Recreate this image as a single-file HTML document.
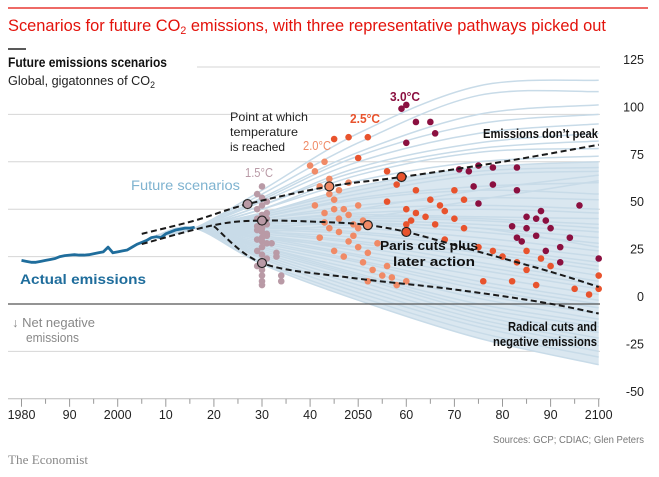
<!DOCTYPE html>
<html><head><meta charset="utf-8">
<style>
html,body{margin:0;padding:0;background:#fff;}
body{width:659px;height:477px;overflow:hidden;position:relative;font-family:"Liberation Sans",sans-serif;}
svg{position:absolute;left:0;top:0;}
text{font-family:"Liberation Sans",sans-serif;}
</style></head>
<body>
<svg id="chart" width="659" height="477"></svg>
<script>
// ---- data ----
const xTickYears=[1980,1990,2000,2010,2020,2030,2040,2050,2060,2070,2080,2090,2100];
const xTickLabels=["1980","90","2000","10","20","30","40","2050","60","70","80","90","2100"];
const yTicks=[125,100,75,50,25,0,-25,-50];
const actualYears=[1980,1981,1982,1983,1984,1985,1986,1987,1988,1989,1990,1991,1992,1993,1994,1995,1996,1997,1998,1999,2000,2001,2002,2003,2004,2005,2006,2007,2008,2009,2010,2011,2012,2013,2014,2015,2016];
const actualValues=[23,22.5,22,22,22.5,23,23.5,24,25,25.5,25.8,26,25.8,25.8,26,26.5,27,27.5,30,27,27.5,28,28.5,30,31.5,32.5,33.5,35,35.5,35,37,38,39,39.5,40,40,40.5];
const scenYears=[2016,2030,2050,2075,2100];
const scen2030=[60,58,56,55,54,52,52,50,50,48,48,47,46,46,45,45,44,44,43,43,42,42,41,40,40,39,38,38,37,36,36,35,34,33,32,31,30,30,29,28,27,26,25,24,22,21,40,42,38,35];
const scen2050=[90,85,80,78,75,72,70,68,65,62,60,58,56,55,52,50,48,47,46,45,44,43,42,40,38,37,35,33,32,30,28,26,25,23,22,20,18,16,15,14,12,10,8,6,4,2,45,50,42,30];
const scen2075=[115,110,100,95,90,85,82,80,75,72,70,68,62,60,56,52,50,46,45,44,42,40,38,35,32,30,27,25,22,20,18,15,12,10,8,5,3,0,-2,-4,-6,-8,-10,-12,-15,-18,55,60,40,28];
const scen2100=[118,112,105,100,95,90,86,82,78,75,72,70,64,58,55,50,48,45,42,40,38,35,32,28,25,22,18,15,12,10,8,5,2,0,-2,-5,-8,-10,-12,-15,-18,-20,-22,-25,-28,-32,65,68,30,20];
const peakYears=[2005,2016,2027,2044,2059,2080,2100];
const peakValues=[37,44,52.7,62,67,75,84];
const parisYears=[2005,2020,2030,2045,2052,2060,2073,2090,2100];
const parisValues=[31.6,41.6,44,43,41.6,38,29,17,9];
const radicalYears=[2020,2030,2048,2069,2088,2100];
const radicalValues=[41,21.6,14,8,1,-5];
const markYears=[2027,2030,2030,2044,2052,2059,2060];
const markValues=[52.7,44,21.6,62,41.6,67,38];
const markGroup=["c15","c15","c15","c20","c20","c25","c25"];
const d15Years=[2030,2029,2030,2031,2030,2029,2031,2030,2029,2030,2031,2030,2029,2030,2031,2030,2029,2030,2031,2030,2029,2030,2031,2030,2029,2030,2030,2030,2030,2031,2029,2031,2033,2034,2034,2033,2032];
const d15Values=[62,58,56,54,52,50,48,47,45,43,42,40,39,38,37,35,34,33,32,30,28,26,24,22,20,18,15,12,10,45,41,36,25,15,12,27,32];
const d20Years=[2040,2041,2043,2042,2044,2045,2041,2043,2046,2047,2048,2044,2046,2049,2042,2048,2050,2045,2047,2051,2053,2055,2052,2057,2060,2049,2051,2046,2044,2050,2052,2054,2056,2058,2048,2043,2045,2050];
const d20Values=[73,70,75,62,58,55,52,48,45,50,47,40,38,36,35,33,30,28,25,22,18,15,12,14,12,42,44,60,66,52,27,32,20,10,64,43,50,40];
const d25Years=[2045,2048,2052,2050,2056,2058,2062,2065,2067,2060,2062,2064,2068,2070,2072,2066,2060,2075,2078,2080,2083,2085,2088,2090,2076,2082,2087,2095,2100,2100,2098,2070,2072,2056,2061,2068,2085];
const d25Values=[87,88,88,77,70,63,60,55,52,50,48,46,49,45,40,42,42,30,28,25,22,18,24,20,12,12,10,8,8,15,5,60,55,54,44,34,28];
const d30Years=[2059,2060,2062,2065,2066,2060,2071,2073,2075,2078,2083,2074,2078,2083,2075,2085,2087,2089,2085,2082,2090,2083,2087,2084,2094,2089,2092,2092,2100,2088,2096];
const d30Values=[103,105,96,96,90,85,71,70,73,72,72,62,63,60,53,46,45,44,40,41,40,35,36,33,35,28,30,22,24,49,52];
const groupColors={c15:"#b99aa6",c20:"#f08a66",c25:"#e8532d",c30:"#8b1040"};
// ---- scales ----
const X=y=>21.5+(y-1980)*4.81;
const Y=v=>304-v*1.896;
const NS="http://www.w3.org/2000/svg";
const svg=document.getElementById('chart');
function mk(tag,attrs,parent){const e=document.createElementNS(NS,tag);for(const k in attrs)e.setAttribute(k,attrs[k]);(parent||svg).appendChild(e);return e;}
function txt(s,x,y,fs,fill,extra){const e=mk('text',Object.assign({x:x,y:y,'font-size':fs,fill:fill},extra||{}));e.textContent=s;return e;}
function smoothPts(pts,first){
  let d=(first?'M':'L')+pts[0][0]+','+pts[0][1];
  for(let i=0;i<pts.length-1;i++){
    const p0=pts[Math.max(0,i-1)],p1=pts[i],p2=pts[i+1],p3=pts[Math.min(pts.length-1,i+2)];
    const c1x=p1[0]+(p2[0]-p0[0])/6,c1y=p1[1]+(p2[1]-p0[1])/6;
    const c2x=p2[0]-(p3[0]-p1[0])/6,c2y=p2[1]-(p3[1]-p1[1])/6;
    d+=' C'+c1x+','+c1y+' '+c2x+','+c2y+' '+p2[0]+','+p2[1];
  }
  return d;
}
const smooth=pts=>smoothPts(pts,true);
function scenPts(i){
  const vals=[40,scen2030[i],scen2050[i],scen2075[i],scen2100[i]];
  return [[X(2008),Y(36)]].concat(scenYears.map((yr,j)=>[X(yr),Y(vals[j])]));
}
// header
let e;
e=mk('line',{x1:8,y1:8,x2:648,y2:8,stroke:'#e3120b','stroke-width':1.2});


e=txt('',8,31,17,'#e3120b',{textLength:598,lengthAdjust:'spacingAndGlyphs'});
e.innerHTML='Scenarios for future CO<tspan font-size="11" dy="3">2</tspan><tspan dy="-3"> emissions, with three representative pathways picked out</tspan>';


e=mk('line',{x1:8,y1:49,x2:26,y2:49,stroke:'#222','stroke-width':1.5});


e=txt('Future emissions scenarios',8,67,13.5,'#111',{'font-weight':'bold',textLength:159,lengthAdjust:'spacingAndGlyphs'});


e=txt('',8,85,13,'#222',{textLength:147,lengthAdjust:'spacingAndGlyphs'});
e.innerHTML='Global, gigatonnes of CO<tspan font-size="9" dy="3">2</tspan>';


// gridlines
yTicks.forEach(v=>{
  const y=Y(v);
  let x1=8;
  if(v===125)x1=197;
  if(v===-50)return;
  const g=mk('line',{x1:x1,y1:y,x2:600,y2:y,stroke:'#d6d6d6','stroke-width':1});
  
  
});
// scenarios envelope fill
{
  const top=scenPts(9), bot=scenPts(45).slice().reverse();
  const d=smooth(top)+' '+smoothPts(bot,false)+' Z';
  e=mk('path',{d:d,fill:'#dae7f0',stroke:'none'});
  
  
}
const scenG=mk('g',{});


for(let i=0;i<scen2030.length;i++){
  const p=mk('path',{d:smooth(scenPts(i)),fill:'none',stroke:'#c8dbe8','stroke-width':1.5},scenG);
  
  
}
e=mk('line',{x1:8,y1:Y(0),x2:600,y2:Y(0),stroke:'#555','stroke-width':1.3});


// dots
function dots(years,vals,color,name){
  const g=mk('g',{});
  
  
  years.forEach((yr,i)=>{
    const c=mk('circle',{cx:X(yr),cy:Y(vals[i]),r:3.3,fill:color},g);
    
    
  });
}
dots(d15Years,d15Values,groupColors.c15,'dots-1-5c');
dots(d20Years,d20Values,groupColors.c20,'dots-2-0c');
dots(d25Years,d25Values,groupColors.c25,'dots-2-5c');
dots(d30Years,d30Values,groupColors.c30,'dots-3-0c');
// actual emissions
e=mk('polyline',{points:actualYears.map((yr,i)=>X(yr)+','+Y(actualValues[i])).join(' '),fill:'none',stroke:'#1f6d9c','stroke-width':2.8,'stroke-linejoin':'round'});


// dashed pathways
function dashed(years,vals,name){
  const pts=years.map((yr,i)=>[X(yr),Y(vals[i])]);
  const p=mk('path',{d:smooth(pts),fill:'none',stroke:'#1a1a1a','stroke-width':2,'stroke-dasharray':'6,3.5'});
  
  
}
dashed(peakYears,peakValues,'pathway-no-peak');
dashed(parisYears,parisValues,'pathway-paris');
dashed(radicalYears,radicalValues,'pathway-radical');
markYears.forEach((yr,i)=>{
  const c=mk('circle',{cx:X(yr),cy:Y(markValues[i]),r:4.5,fill:groupColors[markGroup[i]],stroke:'#222','stroke-width':1.2});
  
  
});
// x axis
e=mk('line',{x1:8,y1:Y(-50),x2:600,y2:Y(-50),stroke:'#bbb','stroke-width':1});


for(let yr=1980;yr<=2100;yr+=5){
  const t=mk('line',{x1:X(yr),y1:Y(-50),x2:X(yr),y2:Y(-50)+(yr%10===0?8:5),stroke:'#999','stroke-width':1});
  
  
}
xTickYears.forEach((yr,i)=>{
  const t=txt(xTickLabels[i],X(yr),419,12.5,'#222',{'text-anchor':'middle'});
  
  
});
yTicks.forEach(v=>{
  const t=txt(String(v),644,Y(v)-3,12.5,'#222',{'text-anchor':'end'});
  
  
});
// annotations
function ann(s,x,y,fs,fill,name,w,extra){const o=Object.assign({},extra||{});if(w){o.textLength=w;o.lengthAdjust='spacingAndGlyphs';}const t=txt(s,x,y,fs,fill,o);return t;}
ann('Future scenarios',131,190,13.5,'#7fb3d0','future-scenarios-label',109);
ann('Actual emissions',20,284,14,'#1f6d9c','actual-emissions-label',126,{'font-weight':'bold'});
ann('1.5°C',245,177,12.5,groupColors.c15,'label-1-5c',28);
ann('2.0°C',303,150,12.5,groupColors.c20,'label-2-0c',28);
ann('2.5°C',350,123,12.5,groupColors.c25,'label-2-5c',30,{'font-weight':'bold'});
ann('3.0°C',390,101,12.5,groupColors.c30,'label-3-0c',30,{'font-weight':'bold'});
ann('Point at which',230,121,12,'#222','threshold-note-1',78);
ann('temperature',230,136,12,'#222','threshold-note-2',68);
ann('is reached',230,151,12,'#222','threshold-note-3',55);
ann('Emissions don’t peak',483,138,12.5,'#111','no-peak-label',115,{'font-weight':'bold'});
ann('Paris cuts plus',380,250,12.5,'#111','paris-label-1',98,{'font-weight':'bold'});
ann('later action',393,266,12.5,'#111','paris-label-2',82,{'font-weight':'bold'});
ann('Radical cuts and',508,331,12.5,'#111','radical-label-1',89,{'font-weight':'bold'});
ann('negative emissions',493,346,12.5,'#111','radical-label-2',104,{'font-weight':'bold'});
ann('↓ Net negative',12,327,12.5,'#888','net-negative-label-1',83);
ann('emissions',26,342,12.5,'#888','net-negative-label-2',53);
ann('Sources: GCP; CDIAC; Glen Peters',493,443,10.5,'#777','sources-note',151);
ann('The Economist',8,464,12.5,'#888','publisher-credit',80,{'style':'font-family:"Liberation Serif",serif'});
</script>
</body></html>
